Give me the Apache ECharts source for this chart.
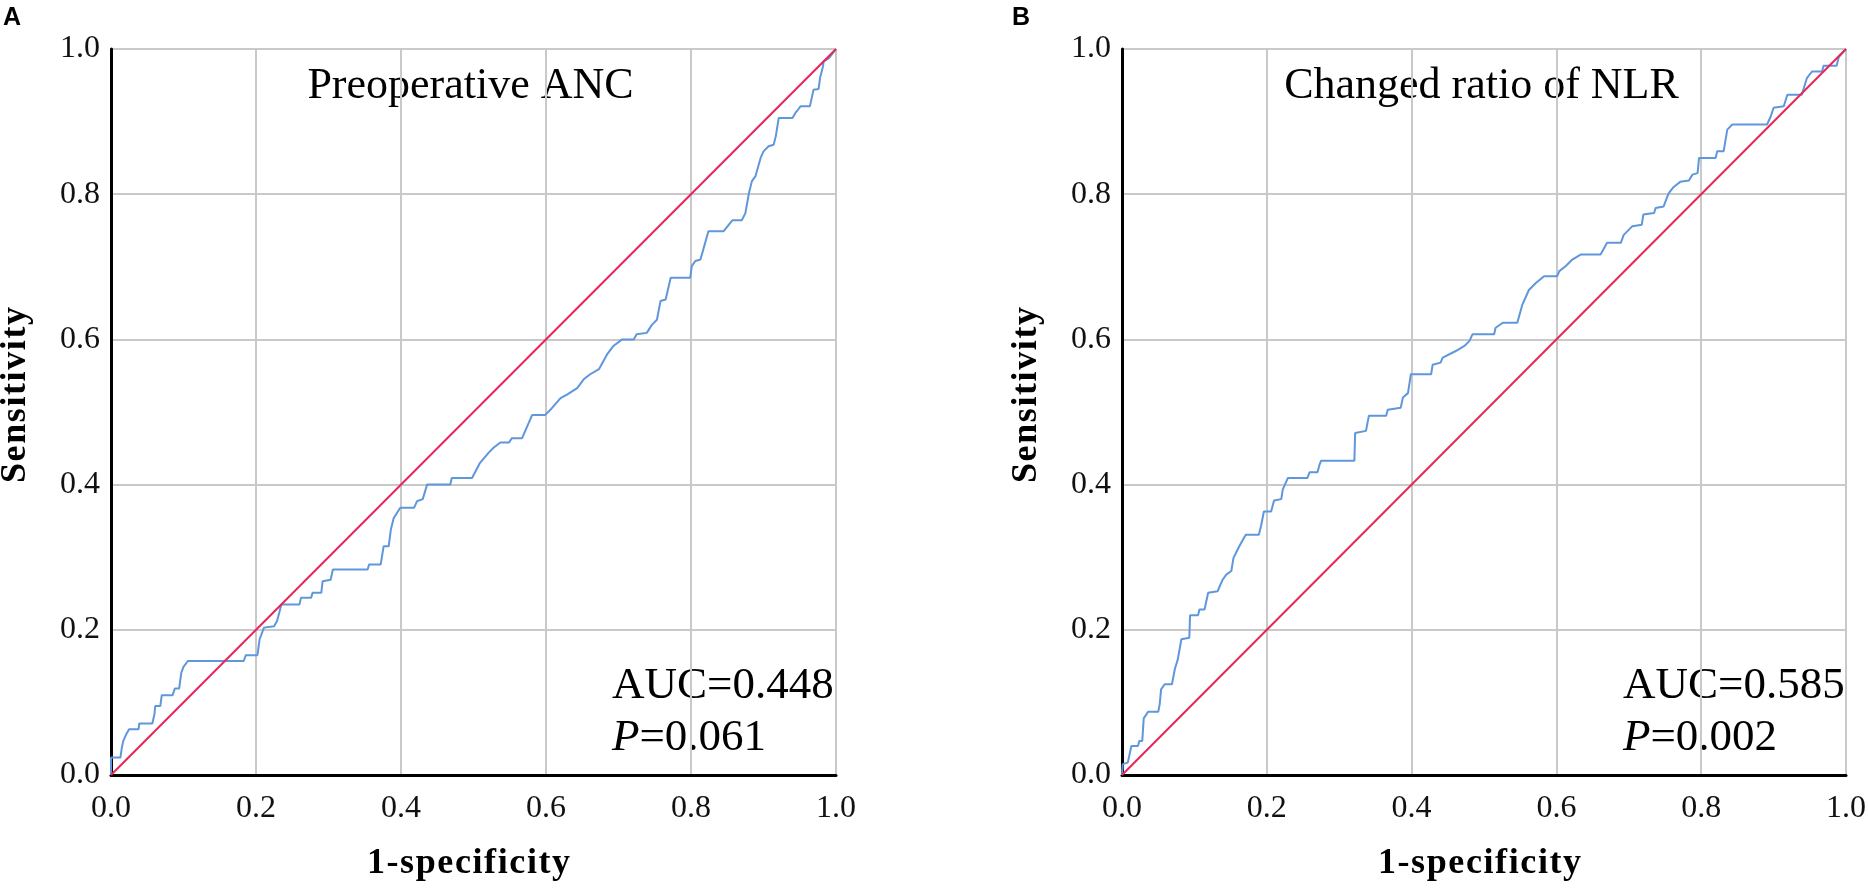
<!DOCTYPE html>
<html>
<head>
<meta charset="utf-8">
<title>ROC curves</title>
<script src="https://cdn.jsdelivr.net/npm/echarts@6/dist/echarts.min.js"></script>
<style>
  html, body { margin: 0; padding: 0; background: #fff; }
  #chart { width: 1869px; height: 888px; }
</style>
</head>
<body>
<div id="chart"></div>
<script>
// panel A: preoperative ANC (1-specificity, sensitivity)
const ancFpr = [0, 0, 0.013, 0.015, 0.017, 0.021, 0.025, 0.038, 0.039, 0.057, 0.060, 0.061, 0.068, 0.070, 0.085, 0.088, 0.094, 0.097, 0.100, 0.106,
  0.183, 0.186, 0.202, 0.205, 0.211, 0.225, 0.229, 0.232, 0.235, 0.260, 0.262, 0.276, 0.278, 0.290, 0.292, 0.303, 0.306, 0.354, 0.356, 0.372,
  0.376, 0.383, 0.386, 0.390, 0.399, 0.418, 0.422, 0.430, 0.436, 0.468, 0.470, 0.498, 0.509, 0.521, 0.528, 0.537, 0.549, 0.553, 0.567, 0.581,
  0.599, 0.606, 0.620, 0.629, 0.643, 0.652, 0.661, 0.673, 0.684, 0.693, 0.705, 0.721, 0.725, 0.739, 0.746, 0.753, 0.758, 0.765, 0.772, 0.799,
  0.801, 0.806, 0.813, 0.817, 0.824, 0.845, 0.857, 0.870, 0.875, 0.880, 0.884, 0.889, 0.896, 0.900, 0.907, 0.914, 0.917, 0.921, 0.940, 0.944,
  0.948, 0.951, 0.964, 0.969, 0.976, 0.978, 0.982, 0.983, 0.990, 1];
const ancTpr = [0, 0.024, 0.024, 0.038, 0.047, 0.056, 0.063, 0.063, 0.071, 0.071, 0.084, 0.095, 0.095, 0.110, 0.110, 0.119, 0.119, 0.141, 0.149, 0.157,
  0.157, 0.165, 0.165, 0.187, 0.203, 0.205, 0.212, 0.223, 0.235, 0.235, 0.244, 0.244, 0.251, 0.251, 0.267, 0.269, 0.283, 0.283, 0.290, 0.290,
  0.315, 0.315, 0.338, 0.354, 0.368, 0.368, 0.377, 0.380, 0.400, 0.400, 0.409, 0.409, 0.430, 0.444, 0.451, 0.458, 0.458, 0.464, 0.464, 0.496,
  0.496, 0.503, 0.519, 0.524, 0.533, 0.545, 0.552, 0.559, 0.579, 0.591, 0.600, 0.600, 0.607, 0.609, 0.620, 0.627, 0.653, 0.655, 0.685, 0.685,
  0.701, 0.708, 0.710, 0.724, 0.749, 0.749, 0.764, 0.764, 0.774, 0.802, 0.818, 0.825, 0.850, 0.859, 0.866, 0.868, 0.880, 0.905, 0.905, 0.912,
  0.917, 0.921, 0.921, 0.944, 0.945, 0.960, 0.976, 0.983, 0.987, 1];

// panel B: changed ratio of NLR
const nlrFpr = [0, 0.001, 0.008, 0.011, 0.013, 0.022, 0.024, 0.028, 0.030, 0.036, 0.050, 0.052, 0.054, 0.059, 0.069, 0.073, 0.077, 0.082, 0.093, 0.094,
  0.105, 0.107, 0.114, 0.119, 0.132, 0.135, 0.139, 0.144, 0.151, 0.154, 0.162, 0.167, 0.171, 0.189, 0.192, 0.196, 0.206, 0.210, 0.220, 0.222,
  0.229, 0.256, 0.259, 0.270, 0.273, 0.275, 0.321, 0.322, 0.337, 0.341, 0.365, 0.367, 0.385, 0.388, 0.395, 0.399, 0.427, 0.429, 0.440, 0.443,
  0.461, 0.473, 0.480, 0.484, 0.514, 0.516, 0.526, 0.546, 0.553, 0.562, 0.572, 0.583, 0.601, 0.604, 0.613, 0.622, 0.634, 0.661, 0.666, 0.670,
  0.689, 0.693, 0.705, 0.718, 0.720, 0.735, 0.737, 0.748, 0.755, 0.762, 0.771, 0.783, 0.788, 0.795, 0.797, 0.820, 0.822, 0.831, 0.836, 0.843,
  0.891, 0.896, 0.900, 0.914, 0.919, 0.939, 0.946, 0.953, 0.967, 0.969, 0.987, 0.990, 1];
const nlrTpr = [0, 0.015, 0.017, 0.031, 0.040, 0.040, 0.047, 0.047, 0.078, 0.087, 0.087, 0.097, 0.118, 0.125, 0.125, 0.146, 0.159, 0.187, 0.189, 0.220,
  0.220, 0.228, 0.228, 0.251, 0.253, 0.260, 0.269, 0.276, 0.281, 0.299, 0.315, 0.324, 0.331, 0.331, 0.343, 0.363, 0.363, 0.378, 0.380, 0.393,
  0.409, 0.409, 0.417, 0.417, 0.428, 0.433, 0.433, 0.471, 0.474, 0.495, 0.495, 0.503, 0.506, 0.520, 0.526, 0.552, 0.552, 0.565, 0.568, 0.575,
  0.584, 0.591, 0.598, 0.607, 0.607, 0.616, 0.623, 0.623, 0.648, 0.668, 0.678, 0.687, 0.687, 0.694, 0.701, 0.710, 0.717, 0.717, 0.726, 0.733,
  0.733, 0.744, 0.756, 0.758, 0.772, 0.774, 0.781, 0.783, 0.801, 0.810, 0.817, 0.819, 0.827, 0.829, 0.850, 0.850, 0.859, 0.859, 0.889, 0.896,
  0.896, 0.907, 0.919, 0.921, 0.937, 0.937, 0.960, 0.969, 0.969, 0.977, 0.977, 0.989, 1];

// chance line
const diagonal = [[0, 0], [1, 1]];

const panelTitles = ['Preoperative ANC', 'Changed ratio of NLR'];
const panelLetters = ['A', 'B'];
const aucValues = ['0.448', '0.585'];
const pValues = ['0.061', '0.002'];

const chart = echarts.init(document.getElementById('chart'));

const serif = 'Liberation Serif, Times New Roman, serif';
const gridLefts = [111, 1122];
const plotW = 725;
const plotH = 726;
const plotTop = 49;

function pairs(xs, ys) {
  return xs.map((x, i) => [x, ys[i]]);
}

// axis titles are a little tracked out in the figure: one rich token per
// character with a small side padding
function spaced(str) {
  return str.split('').map((c) => '{c|' + c + '}').join('');
}

function axisCommon(gridIndex, isX) {
  return {
    type: 'value',
    gridIndex: gridIndex,
    min: 0,
    max: 1,
    interval: 0.2,
    axisLine: { show: true, onZero: false, lineStyle: { color: '#000', width: 3 } },
    axisTick: { show: false },
    axisLabel: {
      color: '#111',
      fontFamily: serif,
      fontSize: 32,
      margin: isX ? 18 : 11,
      formatter: (v) => v.toFixed(1)
    },
    splitLine: { show: true, lineStyle: { color: '#c9c9c9', width: 2 } }
  };
}

const titleRich = { c: { fontFamily: serif, fontWeight: 'bold', fontSize: 36, fill: '#000', padding: [0, 0.8] } };

let graphics = [];
gridLefts.forEach((left, i) => {
  const cx = left + plotW / 2;
  graphics.push(
    { type: 'text', x: i === 0 ? 3 : 1012, y: 6,
      style: { text: panelLetters[i], font: 'bold 25px Liberation Sans, Arial, sans-serif', fill: '#000' } },
    { type: 'text', x: cx - 3, y: 86,
      style: { text: panelTitles[i], font: '44px ' + serif, fill: '#000', textAlign: 'center', textVerticalAlign: 'middle' } },
    { type: 'text', x: left + 501, y: 686,
      style: { text: 'AUC=' + aucValues[i], font: '45px ' + serif, fill: '#000', textVerticalAlign: 'middle' } },
    { type: 'text', x: left + 501, y: 738,
      style: {
        text: '{i|P}=' + pValues[i], font: '45px ' + serif, fill: '#000', textVerticalAlign: 'middle',
        rich: { i: { fontStyle: 'italic', fontFamily: serif, fontSize: 45, fill: '#000' } }
      } },
    { type: 'text', x: cx - 5, y: 864,
      style: { text: spaced('1-specificity'), fill: '#000', textAlign: 'center', textVerticalAlign: 'middle', rich: titleRich } },
    { type: 'text', x: left - 95, y: 395, rotation: Math.PI / 2,
      style: { text: spaced('Sensitivity'), fill: '#000', textAlign: 'center', textVerticalAlign: 'middle', rich: titleRich } }
  );
});

const option = {
  animation: false,
  backgroundColor: '#fff',
  grid: gridLefts.map((l) => ({ left: l, top: plotTop, width: plotW, height: plotH })),
  xAxis: [axisCommon(0, true), axisCommon(1, true)],
  yAxis: [axisCommon(0, false), axisCommon(1, false)],
  graphic: graphics,
  series: [
    { type: 'line', xAxisIndex: 0, yAxisIndex: 0, data: pairs(ancFpr, ancTpr), showSymbol: false,
      lineStyle: { color: '#5f96dc', width: 2 }, z: 3 },
    { type: 'line', xAxisIndex: 0, yAxisIndex: 0, data: diagonal, showSymbol: false,
      lineStyle: { color: '#e8265a', width: 2 }, z: 4 },
    { type: 'line', xAxisIndex: 1, yAxisIndex: 1, data: pairs(nlrFpr, nlrTpr), showSymbol: false,
      lineStyle: { color: '#5f96dc', width: 2 }, z: 3 },
    { type: 'line', xAxisIndex: 1, yAxisIndex: 1, data: diagonal, showSymbol: false,
      lineStyle: { color: '#e8265a', width: 2 }, z: 4 }
  ]
};

chart.setOption(option);
</script>
</body>
</html>
